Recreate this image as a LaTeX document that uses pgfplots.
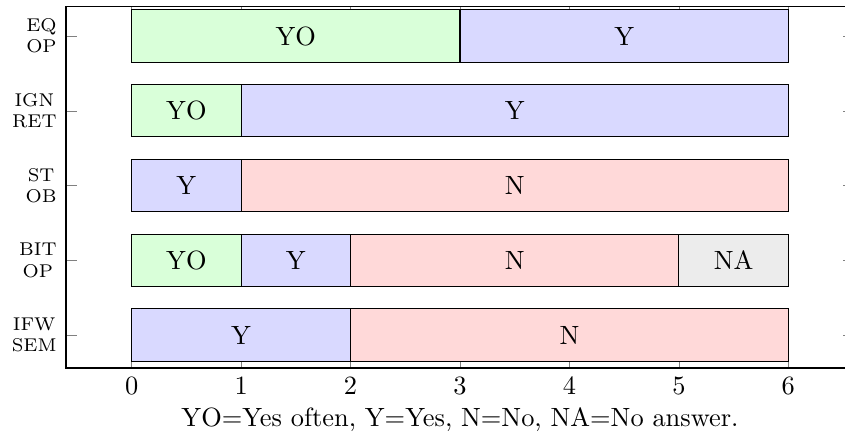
\documentclass[border=0pt]{standalone}
\usepackage{pgfplots}
\pgfplotsset{compat=1.18}
\begin{document}
\begin{tikzpicture}
\begin{axis}[
  xbar stacked,
  width=298.5pt, height=137.1pt, scale only axis,
  bar width=0.7,
  xmin=-0.6, xmax=6.6,
  ymin=-0.4, ymax=4.44,
  y dir=reverse,
  ytick={0,1,2,3,4},
  yticklabels={{EQ\\OP},{IGN\\RET},{ST\\OB},{BIT\\OP},{IFW\\SEM}},
  yticklabel style={align=center, font=\scriptsize},
  xtick={0,1,2,3,4,5,6},
  major tick style={gray},
  xlabel={YO=Yes often, Y=Yes, N=No, NA=No answer.},
  xlabel style={yshift=2pt},
  point meta=explicit symbolic,
  nodes near coords,
  every node near coord/.append style={anchor=center},
]
\addplot[draw=black, fill=green!15] coordinates {(3,0) [YO] (1,1) [YO] (0,2) [] (1,3) [YO] (0,4) []};
\addplot[draw=black, fill=blue!15] coordinates {(3,0) [Y] (5,1) [Y] (1,2) [Y] (1,3) [Y] (2,4) [Y]};
\addplot[draw=black, fill=red!15] coordinates {(0,0) [] (0,1) [] (5,2) [N] (3,3) [N] (4,4) [N]};
\addplot[draw=black, fill=gray!15] coordinates {(0,0) [] (0,1) [] (0,2) [] (1,3) [NA] (0,4) []};
\end{axis}
\pgfresetboundingbox
\path[use as bounding box] (current axis.north west) ++(-25pt,2.3pt) rectangle ++(320.1pt,-167.1pt);
\end{tikzpicture}
\end{document}
